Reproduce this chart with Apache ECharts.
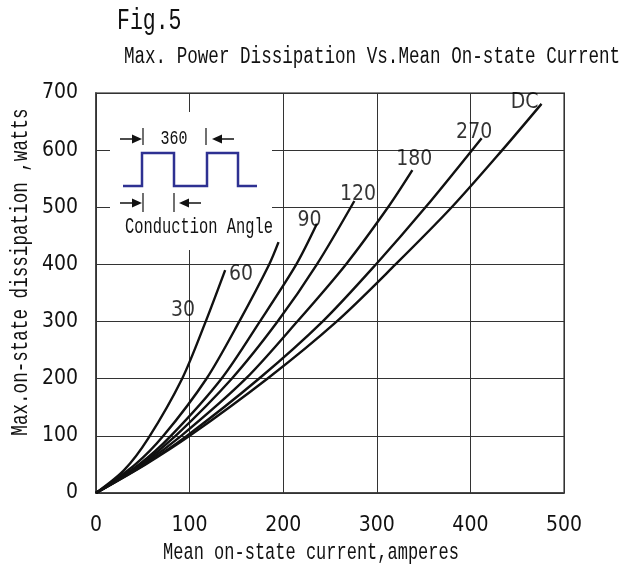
<!DOCTYPE html>
<html>
<head>
<meta charset="utf-8">
<script src="https://cdn.jsdelivr.net/npm/echarts@6/dist/echarts.min.js"></script>
<style>
  html, body { margin: 0; padding: 0; background: #fff; }
  #chart { width: 625px; height: 566px; }
</style>
</head>
<body>
<div id="chart"></div>
<script>
// values: [mean current A, dissipation W]
const cur30  = [[0,0],[30,40],[56,96],[92,200],[116,295],[138,390]];
const cur60  = [[0,0],[42,50],[72,100],[118,200],[153,300],[185,400],[195,439]];
const cur90  = [[0,0],[46,50],[80,100],[134,200],[175,300],[214,400],[236,471]];
const cur120 = [[0,0],[48,50],[85,100],[145,200],[194,300],[236,400],[276,511]];
const cur180 = [[0,0],[50,50],[91,100],[160,200],[215,300],[267,400],[312,500],[338,565]];
const cur270 = [[0,0],[52,50],[97,100],[174,200],[242,300],[299,400],[352,500],[412,621]];
const curDC  = [[0,0],[53,50],[100,100],[183,200],[257,300],[320,400],[380,500],[434,600],[476,681]];

const curveNames = ['30', '60', '90', '120', '180', '270', 'DC'];
const curves = [cur30, cur60, cur90, cur120, cur180, cur270, curDC];
// where each curve name is written
const labelX = [93, 155, 228, 280, 340, 404, 458];
const labelY = [319, 383, 476, 522, 583, 630, 683];

const xTicks = { min: 0, max: 500, interval: 100 };
const yTicks = { min: 0, max: 700, interval: 100 };

const MONO = '"Liberation Mono", "DejaVu Sans Mono", monospace';
const NARROW = '"Liberation Sans Narrow", "DejaVu Sans Condensed", sans-serif';
const waveBlue = '#2e3192';

let chart = echarts.init(document.getElementById('chart'));

// text drawn with taller glyphs like the original
function tallText(x, y, text, size, opts) {
    return Object.assign({
        type: 'text', x: x, y: y, scaleY: 1.38, z: 5,
        style: { text: text, font: size + 'px ' + MONO, fill: '#111', align: 'center', verticalAlign: 'middle' }
    }, opts || {});
}
function arrow(tipX, y, dir) {
    // dir 1 = pointing right, -1 = pointing left
    let base = tipX - dir * 10;
    return [
        { type: 'line', z: 5, shape: { x1: base, y1: y, x2: base - dir * 12, y2: y }, style: { stroke: '#111', lineWidth: 1.5 } },
        { type: 'polygon', z: 5, shape: { points: [[tipX, y], [base, y - 4.5], [base, y + 4.5]] }, style: { fill: '#111' } }
    ];
}
function bar(x, y1, y2) {
    return { type: 'line', z: 5, shape: { x1: x, y1: y1, x2: x, y2: y2 }, style: { stroke: '#111', lineWidth: 1.2 } };
}

let series = curves.map((d, i) => ({
    name: curveNames[i],
    type: 'line',
    data: d,
    smooth: 0.3,
    showSymbol: false,
    z: 3,
    lineStyle: { color: '#111', width: 2.4 }
}));
series.push({
    type: 'scatter',
    symbolSize: 0,
    z: 4,
    data: curveNames.map((n, i) => ({ name: n, value: [labelX[i], labelY[i]] })),
    label: {
        show: true, position: 'inside', formatter: '{b}',
        color: '#000', fontSize: 21, fontFamily: NARROW,
        textBorderWidth: 0, textShadowBlur: 0
    }
});

chart.setOption({
    animation: false,
    grid: { left: 96, right: 61, top: 93, bottom: 73, show: true, borderColor: '#888', borderWidth: 2 },
    xAxis: {
        type: 'value', min: xTicks.min, max: xTicks.max, interval: xTicks.interval,
        axisLine: { onZero: false, lineStyle: { color: '#333', width: 1.5 } },
        axisTick: { show: false },
        axisLabel: { margin: 22, color: '#111', fontSize: 21, fontFamily: NARROW },
        splitLine: { lineStyle: { color: '#333', width: 1 } }
    },
    yAxis: {
        type: 'value', min: yTicks.min, max: yTicks.max, interval: yTicks.interval,
        axisLine: { show: true, onZero: false, lineStyle: { color: '#333', width: 1.5 } },
        axisTick: { show: false },
        axisLabel: { margin: 18, color: '#111', fontSize: 21, fontFamily: NARROW },
        splitLine: { lineStyle: { color: '#333', width: 1 } }
    },
    series: series,
    graphic: [
        tallText(117, 21, 'Fig.5', 21.5, { style: { text: 'Fig.5', font: '21.5px ' + MONO, fill: '#111', align: 'left', verticalAlign: 'middle' } }),
        tallText(372, 57, 'Max. Power Dissipation Vs.Mean On-state Current', 17.6),
        tallText(311, 553, 'Mean on-state current,amperes', 17),
        tallText(21, 272, 'Max.on-state dissipation ,watts', 17.6, { rotation: Math.PI / 2 }),
        // white box for the waveform inset
        { type: 'rect', z: 1, shape: { x: 110, y: 112, width: 162, height: 138 }, style: { fill: '#fff' } },
        { type: 'polyline', z: 5,
          shape: { points: [[123,186],[142,186],[142,153],[174,153],[174,186],[207,186],[207,153],[238,153],[238,186],[257,186]] },
          style: { stroke: waveBlue, lineWidth: 2.5, fill: null } },
        ...arrow(142, 139, 1), bar(143, 128, 145), bar(206, 128, 145), ...arrow(212, 139, -1),
        tallText(174, 139, '360', 15),
        ...arrow(142, 203, 1), bar(143, 193, 212), bar(174, 193, 212), ...arrow(179, 203, -1),
        tallText(199, 227, 'Conduction Angle', 15.4)
    ]
});
</script>
</body>
</html>
